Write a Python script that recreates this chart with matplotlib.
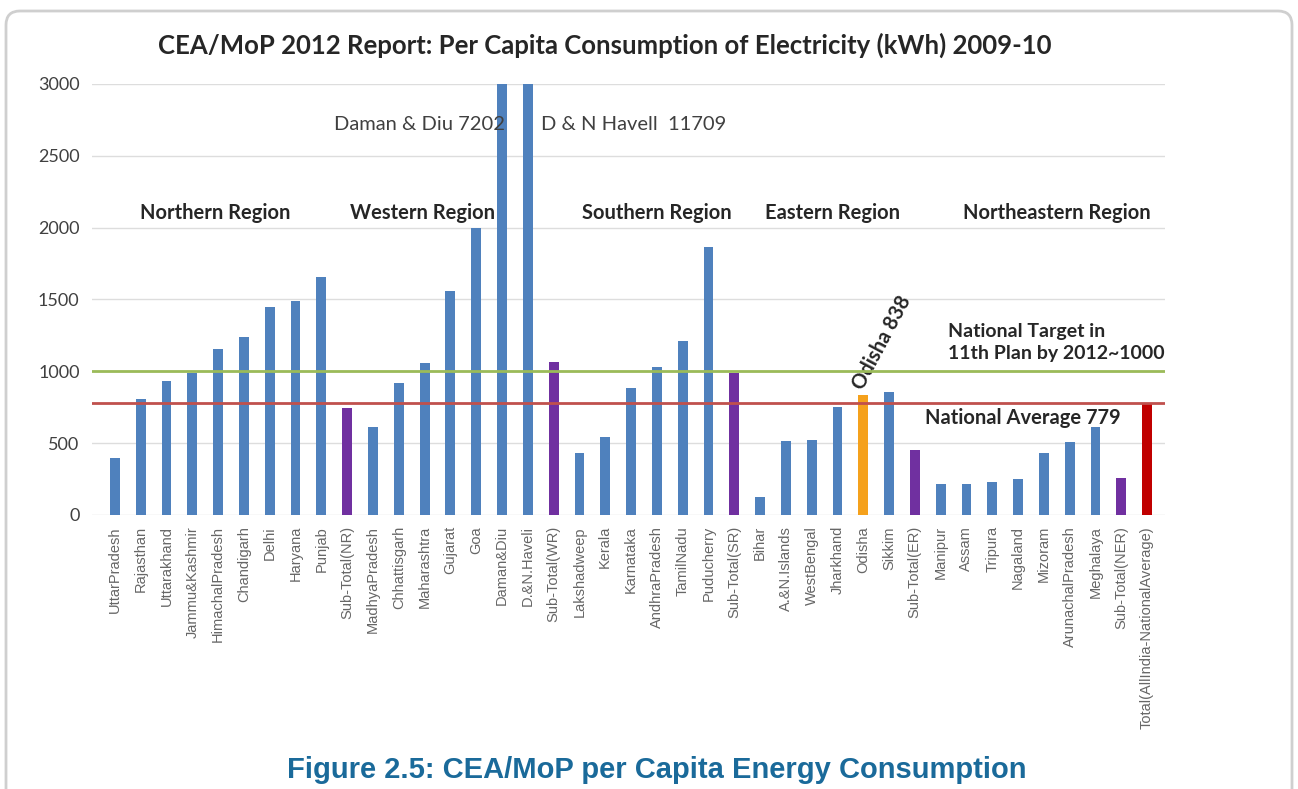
import numpy as np
import matplotlib.pyplot as plt
from matplotlib.patches import FancyBboxPatch
from matplotlib.transforms import IdentityTransform

states = [
    "UttarPradesh", "Rajasthan", "Uttarakhand", "Jammu&Kashmir", "HimachalPradesh",
    "Chandigarh", "Delhi", "Haryana", "Punjab", "Sub-Total(NR)",
    "MadhyaPradesh", "Chhattisgarh", "Maharashtra", "Gujarat", "Goa",
    "Daman&Diu", "D.&N.Haveli", "Sub-Total(WR)",
    "Lakshadweep", "Kerala", "Karnataka", "AndhraPradesh", "TamilNadu",
    "Puducherry", "Sub-Total(SR)",
    "Bihar", "A.&N.Islands", "WestBengal", "Jharkhand", "Odisha", "Sikkim",
    "Sub-Total(ER)",
    "Manipur", "Assam", "Tripura", "Nagaland", "Mizoram", "ArunachalPradesh",
    "Meghalaya", "Sub-Total(NER)", "Total(AllIndia-NationalAverage)",
]
kwh = [
    395, 805, 935, 986, 1153, 1237, 1450, 1492, 1659, 743,
    615, 921, 1056, 1561, 1995, 7202, 11709, 1067,
    429, 545, 882, 1028, 1213, 1863, 986,
    123, 515, 522, 754, 838, 858, 452,
    213, 216, 232, 248, 429, 510, 615, 255, 779,
]
# bar kind: s = state, t = regional sub-total, o = Odisha, n = national
kind = list("sssssssss" "t" "sssssss" "t" "ssssss" "t" "ssss" "o" "s" "t" "sssssss" "t" "n")

national_avg = 779
national_target = 1000

colors = {"s": "#4f81bd", "t": "#7030a0", "o": "#f5a11c", "n": "#c00000"}
bar_colors = [colors[k] for k in kind]

regions = ["Northern Region", "Western Region", "Southern Region",
           "Eastern Region", "Northeastern Region"]
region_x = [3.9, 11.9, 21.0, 27.8, 36.5]

fig = plt.figure(figsize=(12.98, 7.89), dpi=100)

card = FancyBboxPatch((6, -30), 1286, 808, boxstyle="round,pad=0,rounding_size=14",
                      transform=IdentityTransform(), facecolor="white",
                      edgecolor="#cfcfcf", linewidth=2, zorder=-5)
fig.patches.append(card)

ax = fig.add_axes([0.0709, 0.3473, 0.8267, 0.5463])
ax.set_facecolor("none")
x = np.arange(len(states))
ax.bar(x, kwh, width=0.38, color=bar_colors, zorder=3)

ax.axhline(national_target, color="#9bbb59", lw=2, zorder=4)
ax.axhline(national_avg, color="#c0504d", lw=2, zorder=4)

ax.set_xlim(-0.89, 40.7)
ax.set_ylim(0, 3000)
ax.set_yticks(range(0, 3001, 500))
ax.yaxis.grid(True, color="#dddddd", lw=1, zorder=0)
for s in ax.spines.values():
    s.set_visible(False)
ax.tick_params(axis="both", length=0, colors="#404040")
ax.tick_params(axis="y", labelsize=13, pad=9)
ax.set_xticks(x)
ax.set_xticklabels(states, rotation=90, fontsize=10.5, color="#666666",
                   family="Liberation Sans")
ax.tick_params(axis="x", pad=8)
for lbl in ax.get_yticklabels():
    lbl.set_family("Lato")

bold = dict(fontsize=14.5, fontweight="bold", family="Lato", color="#262626")
for name, rx in zip(regions, region_x):
    ax.text(rx, 2102, name, ha="center", va="center", **bold)

ax.text(15.1, 2721, "Daman & Diu 7202", ha="right", va="center",
        fontsize=14.5, family="Lato", color="#404040")
ax.text(16.5, 2721, "D & N Havell  11709", ha="left", va="center",
        fontsize=14.5, family="Lato", color="#404040")
ax.text(32.3, 1200, "National Target in\n11th Plan by 2012~1000", ha="left",
        va="center", linespacing=1.35, **dict(bold, fontsize=14))
ax.text(31.4, 675, "National Average 779", ha="left", va="center", **bold)
ax.text(28.8, 880, "Odisha 838", rotation=62, rotation_mode="anchor",
        ha="left", va="center", **bold)

fig.text(0.466, 0.943, "CEA/MoP 2012 Report: Per Capita Consumption of Electricity (kWh) 2009-10",
         ha="center", va="center", fontsize=18.5, fontweight="bold",
         family="Lato", color="#262626")
fig.text(0.506, 0.024, "Figure 2.5: CEA/MoP per Capita Energy Consumption",
         ha="center", va="center", fontsize=21, fontweight="bold",
         family="Liberation Sans", color="#1a6a9a")

fig.savefig("out.png", dpi=100)
